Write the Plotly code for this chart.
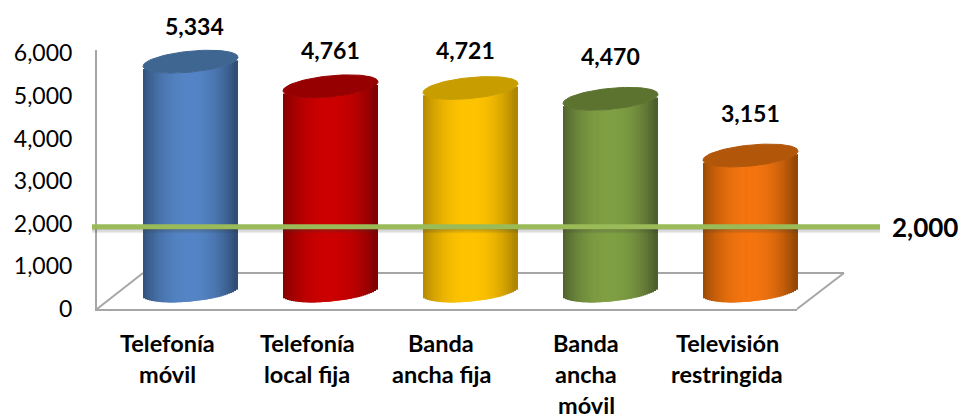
import numpy as np
import plotly.graph_objects as go

categories = [
    ["Telefonía", "móvil"],
    ["Telefonía", "local fija"],
    ["Banda", "ancha fija"],
    ["Banda", "ancha", "móvil"],
    ["Televisión", "restringida"],
]
values = [5334, 4761, 4721, 4470, 3151]
threshold = 2000
y_ticks = [0, 1000, 2000, 3000, 4000, 5000, 6000]

# (centre, edge, top of the cylinder)
palette = [
    ("#5585c6", "#2d4a70", "#3f6591"),
    ("#cc0000", "#7c0000", "#960000"),
    ("#ffc400", "#a88000", "#c79d00"),
    ("#80a044", "#48592a", "#5c7330"),
    ("#f47510", "#8c4403", "#b2560a"),
]
label_shift = [(4, 36), (0, 36), (-5, 38), (0, 43), (0, 43)]
category_shift = [0, 0, -6, -1, 0]

W, H = 961, 418
STEP = 140          # px between categories
BAR_PX = 47.5       # cylinder half width
TILT_PX = 4.5       # right side of the ellipse sits higher than the left
DEPTH_PX = 10.5     # ellipse half height
BAR_SCALE = 1000 / 43   # value per px on the cylinder axis
AXIS_SCALE = 1000 / 42.6
N_STRIPS = 47


def hex_rgb(c):
    return np.array([int(c[i:i + 2], 16) for i in (1, 3, 5)], dtype=float)


def shade(center, edge, u):
    t = np.clip(abs(u), 0, 1) ** 2.2
    if u < 0:
        t *= 0.9
    rgb = hex_rgb(center) * (1 - t) + hex_rgb(edge) * t
    return "rgb(%d,%d,%d)" % tuple(rgb)


fig = go.Figure()

# cylinders: overlapping thin bars on an axis shifted back into the 3D floor
d = 2 / (N_STRIPS + 1)
us = -1 + d * (np.arange(N_STRIPS) + 1)
angle = np.linspace(0, 2 * np.pi, 90)
for i, value in enumerate(values):
    center, edge, top = palette[i]
    xs = i + us * BAR_PX / STEP
    bases = (-DEPTH_PX * np.sqrt(1 - us**2) + TILT_PX * us) * BAR_SCALE
    fig.add_trace(go.Bar(
        x=xs,
        y=[value] * N_STRIPS,
        base=bases,
        width=2 * d * BAR_PX / STEP,
        marker=dict(color=[shade(center, edge, u) for u in us], line=dict(width=0)),
        xaxis="x2", yaxis="y2", showlegend=False, hoverinfo="skip",
    ))
    fig.add_trace(go.Scatter(
        x=i + np.cos(angle) * BAR_PX / STEP,
        y=value + (DEPTH_PX * np.sin(angle) + TILT_PX * np.cos(angle)) * BAR_SCALE,
        mode="lines", fill="toself", fillcolor=top,
        line=dict(color=top, width=1),
        xaxis="x2", yaxis="y2", showlegend=False, hoverinfo="skip",
    ))
    fig.add_annotation(
        x=i, y=value, xref="x2", yref="y2", text=f"<b>{value:,}</b>",
        showarrow=False, xshift=label_shift[i][0], yshift=label_shift[i][1],
        font=dict(size=23, color="black"),
    )

# threshold line with its soft shadow
line_x = [-0.5 - 5 / STEP, 4.5 + 83 / STEP]
for offset, alpha, width in [(3, 0.07, 7), (3, 0.10, 5), (2, 0.14, 3)]:
    fig.add_trace(go.Scatter(
        x=line_x, y=[threshold - offset * AXIS_SCALE] * 2, mode="lines",
        line=dict(color=f"rgba(60,60,60,{alpha})", width=width),
        xaxis="x3", yaxis="y3", showlegend=False, hoverinfo="skip",
    ))
fig.add_trace(go.Scatter(
    x=line_x, y=[threshold] * 2, mode="lines",
    line=dict(color="#9bbb59", width=5),
    xaxis="x3", yaxis="y3", showlegend=False, hoverinfo="skip",
))
fig.add_annotation(
    x=line_x[1], y=threshold, xref="x3", yref="y3", text=f"<b>{threshold:,}</b>",
    showarrow=False, xanchor="left", xshift=10, font=dict(size=26, color="black"),
)

# category labels, one annotation per line for the wide line spacing
for i, lines in enumerate(categories):
    for j, line in enumerate(lines):
        fig.add_annotation(
            x=i, y=1 - (343 + j * 31) / H, xref="x", yref="paper",
            xshift=category_shift[i],
            text=f"<b>{line}</b>", showarrow=False, yanchor="middle",
            font=dict(size=23.5, color="black"),
        )

# 3D floor, paper coordinates so it can leave the axis domain
floor = dict(type="line", xref="paper", yref="paper", layer="below",
             line=dict(color="#a6a6a6", width=2))
front_l, front_r, back_l, back_r = 97 / W, 797 / W, 143 / W, 844 / W
front_y, back_y = 1 - 309 / H, 1 - 273 / H
fig.update_layout(shapes=[
    dict(floor, x0=front_l, y0=front_y, x1=back_l, y1=back_y),
    dict(floor, x0=back_l, y0=back_y, x1=back_r, y1=back_y),
    dict(floor, x0=front_r, y0=front_y, x1=back_r, y1=back_y),
])

free_x = [-190.5 / STEP, (W - 190.5) / STEP]
fig.update_layout(
    width=W, height=H,
    margin=dict(l=0, r=0, t=0, b=0),
    paper_bgcolor="white", plot_bgcolor="rgba(0,0,0,0)",
    barmode="overlay",
    font=dict(family="Lato, Carlito, sans-serif", color="black"),
    xaxis=dict(
        domain=[97 / W, 797 / W], range=[-0.5, 4.5], showgrid=False, zeroline=False,
        showticklabels=False, ticks="", showline=True, linecolor="#a6a6a6", linewidth=2,
        automargin=False,
    ),
    yaxis=dict(
        domain=[1 - 309 / H, 1 - 50 / H], range=[0, 259 * AXIS_SCALE],
        tickvals=y_ticks, tickformat=",d", showgrid=False, zeroline=False,
        ticks="", ticklabelstandoff=18, tickfont=dict(size=23, color="black"),
        showline=True, linecolor="#a6a6a6", linewidth=2, automargin=False,
    ),
    xaxis2=dict(domain=[0, 1], range=free_x, visible=False, anchor="y2", automargin=False),
    yaxis2=dict(domain=[0, 1], range=[(291 - H) * BAR_SCALE, 291 * BAR_SCALE],
                visible=False, anchor="x2", automargin=False),
    xaxis3=dict(domain=[0, 1], range=[-0.5 - 97 / STEP, 4.5 + (W - 797) / STEP],
                visible=False, anchor="y3", automargin=False),
    yaxis3=dict(domain=[0, 1], range=[(312 - H) * AXIS_SCALE, 312 * AXIS_SCALE],
                visible=False, anchor="x3", automargin=False),
)

fig.write_html("out.html", config={"displayModeBar": False},
               post_script="document.body.style.margin='0';")
